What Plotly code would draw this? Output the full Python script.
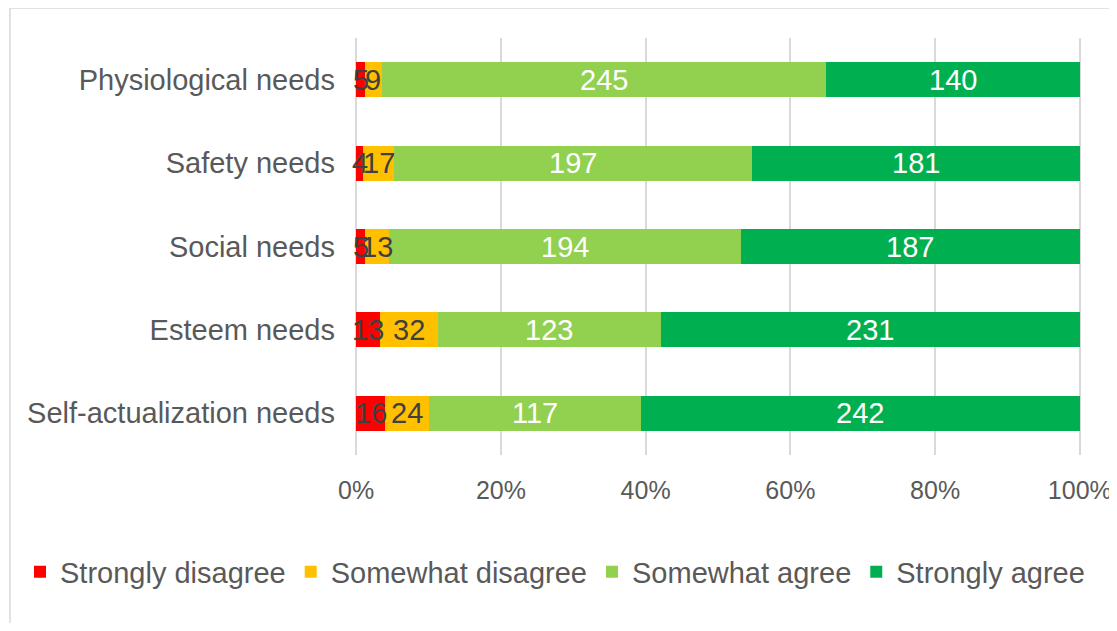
import plotly.graph_objects as go

categories = ["Physiological needs", "Safety needs", "Social needs", "Esteem needs", "Self-actualization needs"]
series_names = ["Strongly disagree", "Somewhat disagree", "Somewhat agree", "Strongly agree"]
strongly_disagree = [5, 4, 5, 13, 16]
somewhat_disagree = [9, 17, 13, 32, 24]
somewhat_agree = [245, 197, 194, 123, 117]
strongly_agree = [140, 181, 187, 231, 242]
tick_values = [0, 20, 40, 60, 80, 100]
tick_labels = ["0%", "20%", "40%", "60%", "80%", "100%"]

colors = ["#FF0000", "#FFC000", "#92D050", "#00B050"]
label_colors = ["#404040", "#404040", "#FFFFFF", "#FFFFFF"]

series = [strongly_disagree, somewhat_disagree, somewhat_agree, strongly_agree]

# page has an 8px body margin: figure coords = screen coords - 8
OFF = 8
W, H = 1117 - OFF, 631 - 2 * OFF
ML = 354 - OFF
MT = 38 - OFF
PR = 1082 - OFF
PB = 455 - OFF
MR = W - PR
MB = H - PB
PW, PH = PR - ML, PB - MT

FONT = "Liberation Sans, Arial, Helvetica, sans-serif"
TXT = "#595959"

fig = go.Figure()
for name, vals, col in zip(series_names, series, colors):
    fig.add_trace(go.Bar(
        y=categories, x=vals, name=name, orientation="h",
        marker=dict(color=col, line=dict(width=0)),
        hoverinfo="skip",
    ))

annotations = []
for i, cat in enumerate(categories):
    total = sum(s[i] for s in series)
    cum = 0
    for k, s in enumerate(series):
        v = s[i]
        center = (cum + v / 2) / total * 100
        cum += v
        annotations.append(dict(
            x=center, y=cat, xref="x", yref="y", text=str(v), showarrow=False,
            font=dict(family=FONT, size=29, color=label_colors[k]),
            xanchor="center", yanchor="middle",
        ))

def px_x(p):
    return (p - OFF - ML) / PW

def px_y(p):
    return (PB - (p - OFF)) / PH

shapes = [
    dict(type="rect", xref="paper", yref="paper",
         x0=px_x(10), x1=px_x(1112), y0=px_y(660), y1=px_y(8),
         line=dict(color="#D9D9D9", width=1.5), fillcolor="rgba(0,0,0,0)", layer="below"),
]

fig.update_layout(
    width=W, height=H,
    margin=dict(l=ML, r=MR, t=MT, b=MB, autoexpand=False),
    paper_bgcolor="white", plot_bgcolor="white",
    barmode="stack", barnorm="percent", bargap=0.58,
    font=dict(family=FONT, size=28, color=TXT),
    showlegend=True,
    legend=dict(
        orientation="h", x=px_x(20), xanchor="left", y=px_y(572), yanchor="middle",
        font=dict(family=FONT, size=29, color=TXT),
        itemwidth=30, tracegroupgap=0, traceorder="normal",
    ),
    xaxis=dict(
        range=[-0.3, 100.3], tickvals=tick_values, ticktext=tick_labels,
        showgrid=True, gridcolor="#D9D9D9", gridwidth=1.5,
        zeroline=False, showline=False, ticks="",
        tickfont=dict(family=FONT, size=25, color=TXT),
        ticklabelstandoff=18, ticklabeloverflow="allow", fixedrange=True,
    ),
    yaxis=dict(
        autorange="reversed", showgrid=False, zeroline=False, showline=False,
        ticks="", tickfont=dict(family=FONT, size=29, color=TXT),
        ticklabelstandoff=18, fixedrange=True,
    ),
    annotations=annotations,
    shapes=shapes,
)

fig.write_html("out.html")
